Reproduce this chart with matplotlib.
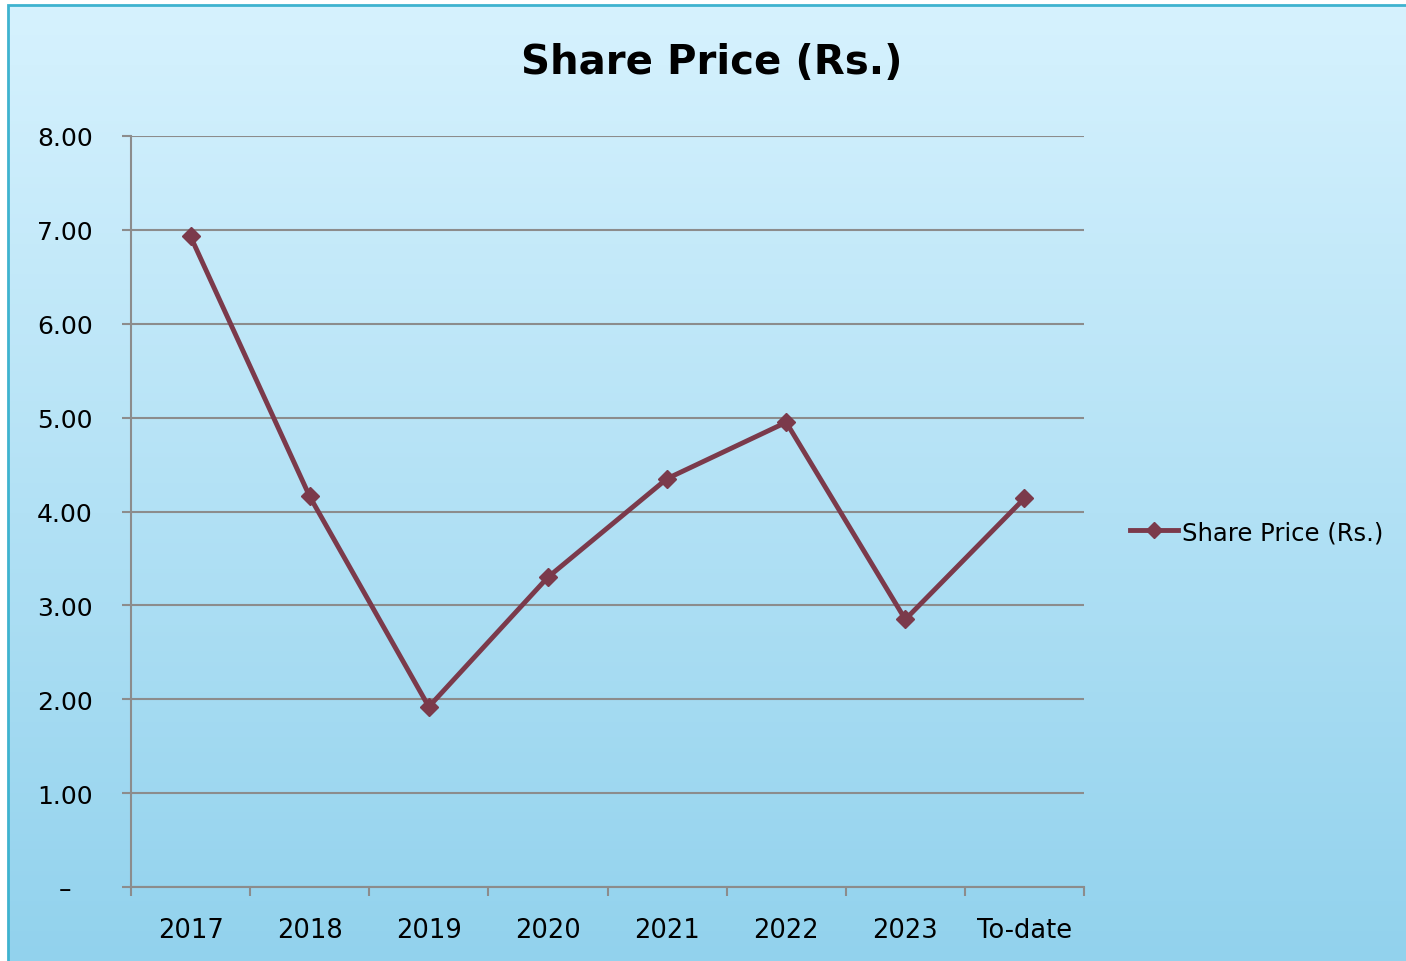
import numpy as np
import matplotlib
matplotlib.use("Agg")
import matplotlib.pyplot as plt
from matplotlib.colors import LinearSegmentedColormap
from matplotlib.patches import Rectangle
from matplotlib.lines import Line2D

categories = ["2017", "2018", "2019", "2020", "2021", "2022", "2023", "To-date"]
share_price = [6.93, 4.16, 1.92, 3.30, 4.35, 4.95, 2.85, 4.14]
y_ticks = [0, 1, 2, 3, 4, 5, 6, 7, 8]
y_tick_labels = ["–", "1.00", "2.00", "3.00", "4.00", "5.00", "6.00", "7.00", "8.00"]
title = "Share Price (Rs.)"
series_name = "Share Price (Rs.)"

W, H = 1406, 962
PX = 72 / 100  # points per pixel
fig = plt.figure(figsize=(W / 100, H / 100), dpi=100)
fig.patch.set_facecolor("white")
plt.rcParams['font.family'] = ['DejaVu Sans']

# gradient background
bg = fig.add_axes([8 / W, 0, 1 - 8 / W, (H - 6) / H], zorder=0)
cmap = LinearSegmentedColormap.from_list("bg", ["#d6f2fe", "#92d2ed"])
grad = np.linspace(0, 1, 256).reshape(-1, 1)
bg.imshow(grad, aspect="auto", cmap=cmap, extent=[0, 1, 0, 1], origin="upper")
bg.set_xlim(0, 1)
bg.set_ylim(0, 1)
bg.axis("off")
bg.add_patch(Rectangle((0, -0.2), 1.2, 1.2, fill=False, edgecolor="#3fb3cf", linewidth=2.0,
                       transform=bg.transAxes, clip_on=False))

ax = fig.add_axes([131 / W, 74 / H, (1084 - 131) / W, (888 - 137) / H], zorder=1)
ax.patch.set_alpha(0)

x = np.arange(len(categories))
ax.plot(x, share_price, color="#7b3a4b", linewidth=3.5, marker="D", markersize=9,
        zorder=3, label=series_name)

ax.set_xlim(-0.5, len(categories) - 0.5)
ax.set_ylim(0, 8)
ax.set_yticks(y_ticks)
ax.set_yticklabels(y_tick_labels, fontsize=18)
ax.set_xticks(x)
ax.set_xticklabels(categories, fontsize=18.5)
ax.set_xticks(np.arange(-0.5, len(categories), 1.0), minor=True)
ax.tick_params(axis="x", which="major", length=0, pad=30 * PX)
ax.tick_params(axis="x", which="minor", length=9 * PX, color="#8c8c8c", width=1.5)
ax.tick_params(axis="y", length=9 * PX, color="#8c8c8c", width=1.5, pad=57 * PX)
for lab in ax.get_yticklabels():
    lab.set_horizontalalignment("center")

ax.grid(axis="y", color="#8c8c8c", linewidth=1.5)
ax.set_axisbelow(True)
for s in ["top", "right"]:
    ax.spines[s].set_visible(False)
for s in ["left", "bottom"]:
    ax.spines[s].set_color("#8c8c8c")
    ax.spines[s].set_linewidth(1.5)

fig.text(712 / W, 1 - 63 / H, title, fontsize=29, fontweight="bold", ha="center", va="center")

handle = Line2D([], [], color="#7b3a4b", linewidth=3.5, marker="D", markersize=8)
fig.legend([handle], [series_name], loc="center left", bbox_to_anchor=(1108 / W, 1 - 533 / H),
           frameon=False, fontsize=17.5, handlelength=2.0, handletextpad=0.15)

fig.savefig("out.png", dpi=100)
